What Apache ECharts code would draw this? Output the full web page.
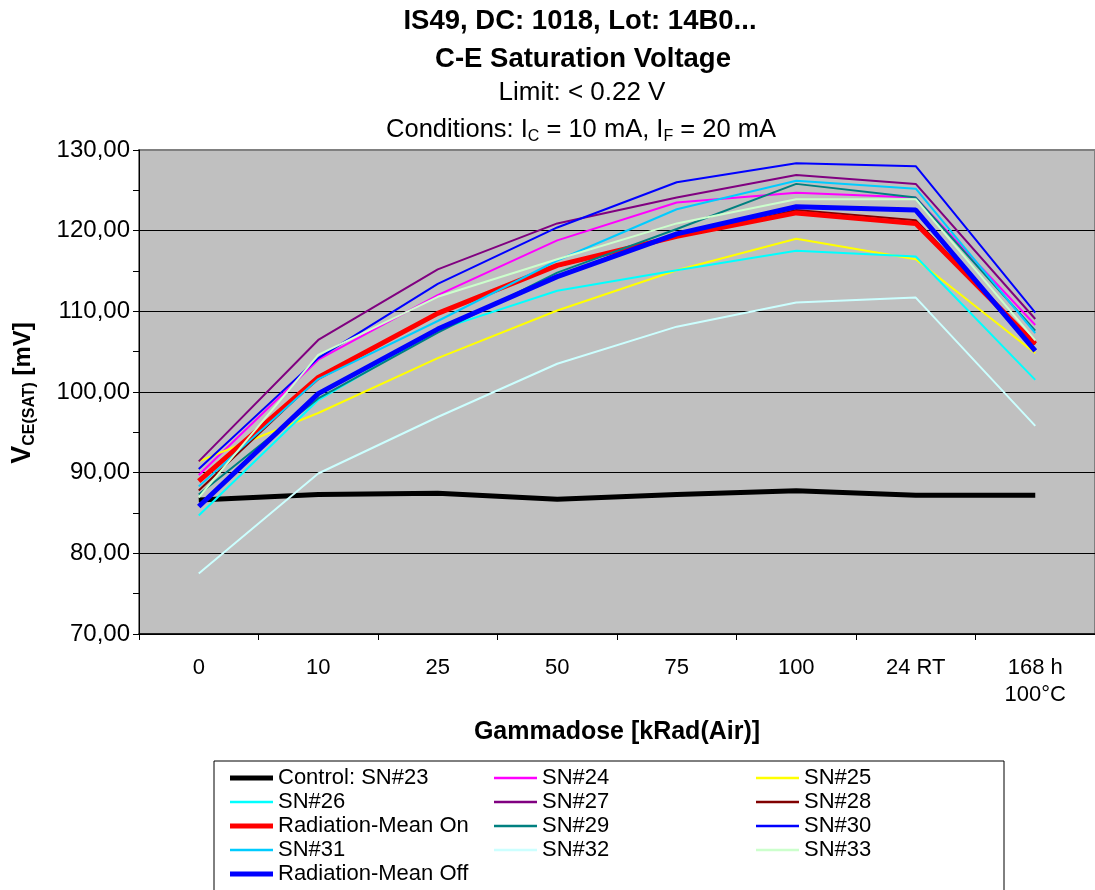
<!DOCTYPE html>
<html><head><meta charset="utf-8">
<script src="https://cdn.jsdelivr.net/npm/echarts@6/dist/echarts.min.js"></script>
<style>html,body{margin:0;padding:0;background:#fff}#c{width:1095px;height:890px}</style>
</head><body><div id="c"></div>
<script>
const categories = ['0', '10', '25', '50', '75', '100', '24 RT', '168 h\n100°C'];
const yTicks = [70, 80, 90, 100, 110, 120, 130];

const control23 = [86.6, 87.3, 87.45, 86.7, 87.3, 87.75, 87.2, 87.2];
const sn24 = [89.7, 104.0, 112.0, 118.8, 123.5, 124.7, 124.1, 108.3];
const sn25 = [91.4, 97.4, 104.2, 110.1, 115.1, 119.0, 116.45, 104.8];
const sn26 = [84.7, 99.0, 107.7, 112.55, 115.1, 117.5, 116.8, 101.5];
const sn27 = [91.4, 106.45, 115.2, 120.9, 124.1, 126.9, 125.8, 109.05];
const sn28 = [87.8, 101.8, 109.7, 115.6, 119.2, 122.55, 121.3, 105.9];
const meanOn = [88.95, 101.8, 109.75, 115.7, 119.3, 122.2, 120.9, 105.95];
const sn29 = [87.3, 99.2, 107.35, 114.8, 120.2, 125.8, 124.1, 107.6];
const sn30 = [90.45, 104.2, 113.4, 120.4, 126.0, 128.35, 128.0, 109.85];
const sn31 = [88.3, 101.6, 108.8, 116.3, 122.65, 126.2, 125.2, 107.3];
const sn32 = [77.5, 89.9, 96.9, 103.5, 108.1, 111.1, 111.7, 95.8];
const sn33 = [86.95, 104.6, 111.8, 116.45, 120.9, 123.9, 123.9, 106.4];
const meanOff = [85.8, 99.8, 107.8, 114.3, 119.6, 122.97, 122.55, 105.1];

const seriesNames = ['Control: SN#23', 'SN#24', 'SN#25', 'SN#26', 'SN#27', 'SN#28', 'Radiation-Mean On',
  'SN#29', 'SN#30', 'SN#31', 'SN#32', 'SN#33', 'Radiation-Mean Off'];
const seriesData = [control23, sn24, sn25, sn26, sn27, sn28, meanOn, sn29, sn30, sn31, sn32, sn33, meanOff];
const seriesColors = ['#000000', '#FF00FF', '#FFFF00', '#00FFFF', '#800080', '#800000', '#FF0000',
  '#008080', '#0000FF', '#00CCFF', '#CCFFFF', '#CCFFCC', '#0000FF'];
const seriesWidths = [5, 2, 2, 2, 2, 2, 5, 2, 2, 2, 2, 2, 5];

const legendGroups = [
  ['Control: SN#23', 'SN#26', 'Radiation-Mean On', 'SN#31'],
  ['Radiation-Mean Off'],
  ['SN#24', 'SN#27', 'SN#29', 'SN#32'],
  ['SN#25', 'SN#28', 'SN#30', 'SN#33']
];
const legendLefts = [230, 230, 494, 756];
const legendTops = [766, 862, 766, 766];

const FONT = '"Liberation Sans", Arial, sans-serif';
const chart = echarts.init(document.getElementById('c'), null, {renderer: 'canvas'});

const series = seriesNames.map((n, i) => ({
  name: n, type: 'line', data: seriesData[i], symbol: 'none', showSymbol: false,
  lineStyle: {color: seriesColors[i], width: seriesWidths[i]},
  itemStyle: {color: seriesColors[i]},
  emphasis: {disabled: true}, animation: false, z: 3 + i
}));

function lineIcon(w) {
  const h = 14, a = (h - w) / 2, b = a + w;
  return 'path://M0,0 M43,14 M0,' + a + ' L43,' + a + ' L43,' + b + ' L0,' + b + ' Z';
}

const legends = legendGroups.map((grp, k) => ({
  orient: 'vertical', left: legendLefts[k], top: legendTops[k], itemGap: 0, padding: 0,
  itemWidth: 43, itemHeight: 14, selectedMode: false, symbolKeepAspect: false,
  data: grp.map(n => {
    const i = seriesNames.indexOf(n);
    return {name: n, icon: lineIcon(seriesWidths[i] === 5 ? 5 : 2.5), itemStyle: {color: seriesColors[i]}};
  }),
  textStyle: {fontFamily: FONT, fontSize: 22, color: '#000', lineHeight: 24}
}));

const option = {
  animation: false,
  backgroundColor: '#ffffff',
  textStyle: {fontFamily: FONT},
  grid: {left: 139, top: 150, width: 960, height: 484, show: true,
    backgroundColor: '#C0C0C0', borderColor: '#808080', borderWidth: 2, containLabel: false},
  legend: legends,
  xAxis: {
    type: 'category', data: categories, boundaryGap: true,
    axisLine: {show: true, lineStyle: {color: '#000', width: 1.5}},
    axisTick: {show: true, length: 6, alignWithLabel: false, lineStyle: {color: '#000'}},
    axisLabel: {interval: 0, fontSize: 22, lineHeight: 27, margin: 20, color: '#000', fontFamily: FONT},
    splitLine: {show: false},
    name: 'Gammadose [kRad(Air)]', nameLocation: 'middle', nameGap: 86,
    nameTextStyle: {fontSize: 25, fontWeight: 'bold', color: '#000', fontFamily: FONT}
  },
  yAxis: {
    type: 'value', min: yTicks[0], max: yTicks[yTicks.length - 1], interval: 10,
    axisLine: {show: true, lineStyle: {color: '#000', width: 1}},
    axisTick: {show: true, length: 6, lineStyle: {color: '#000'}},
    minorTick: {show: true, splitNumber: 2, length: 6, lineStyle: {color: '#000'}},
    axisLabel: {fontSize: 24, margin: 9, color: '#000', fontFamily: FONT,
      formatter: v => v.toFixed(2).replace('.', ',')},
    splitLine: {show: true, lineStyle: {color: ['#000', '#000', '#000', '#000', '#000', '#000', '#808080'], width: 1}}
  },
  graphic: [
    {type: 'text', x: 580, y: 21, style: {text: 'IS49, DC: 1018, Lot: 14B0...', font: 'bold 27.5px ' + FONT,
      fill: '#000', align: 'center', verticalAlign: 'middle'}},
    {type: 'text', x: 583, y: 59, style: {text: 'C-E Saturation Voltage', font: 'bold 27.5px ' + FONT,
      fill: '#000', align: 'center', verticalAlign: 'middle'}},
    {type: 'text', x: 582, y: 93, style: {text: 'Limit: < 0.22 V', font: '26px ' + FONT,
      fill: '#000', align: 'center', verticalAlign: 'middle'}},
    {type: 'text', x: 581, y: 130, style: {
      text: '{n|Conditions: I}{s|C}{n| = 10 mA, I}{s|F}{n| = 20 mA}',
      fill: '#000', align: 'center', verticalAlign: 'middle',
      rich: {
        n: {fontSize: 25.5, fontFamily: FONT, lineHeight: 30, fill: '#000'},
        s: {fontSize: 16, fontFamily: FONT, lineHeight: 18, verticalAlign: 'bottom', fill: '#000'}
      }}},
    {type: 'text', x: 23, y: 393, rotation: Math.PI / 2, style: {
      text: '{v|V}{s|CE(SAT)}{m| [mV]}',
      fill: '#000', align: 'center', verticalAlign: 'middle',
      rich: {
        v: {fontSize: 27, fontWeight: 'bold', fontFamily: FONT, lineHeight: 30, fill: '#000'},
        s: {fontSize: 16, fontWeight: 'bold', fontFamily: FONT, lineHeight: 18, verticalAlign: 'bottom', fill: '#000'},
        m: {fontSize: 24, fontWeight: 'bold', fontFamily: FONT, lineHeight: 30, fill: '#000'}
      }}},
    {type: 'rect', z: -10, shape: {x: 214, y: 761, width: 790, height: 160},
      style: {fill: 'transparent', stroke: '#000', lineWidth: 1}}
  ],
  series: series
};
chart.setOption(option);
</script>
</body></html>
